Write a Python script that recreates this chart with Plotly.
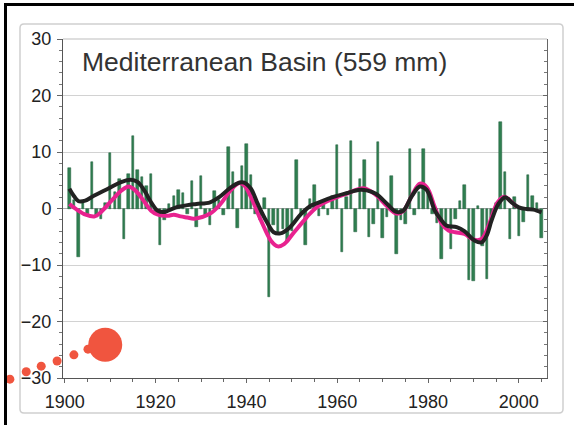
import plotly.graph_objects as go

# ---------------- data ----------------
years = list(range(1901, 2006))
anomaly = [
    7.1, 1.5, -8.5, 1.0, -1.0, 8.3, -1.5, -1.8, 1.0, 9.9,      # 1901-1910
    3.0, 5.3, -5.4, 6.1, 12.9, 6.8, 5.5, 4.0, 6.1, -1.0,       # 1911-1920
    -6.4, -2.0, 0.8, 2.3, 3.2, 2.8, -1.0, 4.8, -3.2, 5.7,      # 1921-1930
    -1.2, -3.0, 3.1, 1.5, -1.2, 10.9, 6.4, -3.4, 7.6, 11.4,    # 1931-1940
    6.0, -1.0, -2.0, 1.8, -15.6, -3.0, -4.5, -3.6, -6.0, -4.0, # 1941-1950
    8.6, -1.0, -6.4, 1.7, 4.1, -1.4, 0.8, -1.1, 2.3, 11.3,     # 1951-1960
    -7.7, 2.0, 11.9, -4.1, 5.3, 8.6, -5.0, -2.7, 11.8, -5.2,   # 1961-1970
    -1.5, 5.8, -8.1, -2.0, -2.7, 10.6, -1.2, 3.0, 10.6, 3.2,   # 1971-1980
    -1.0, -2.5, -8.9, -3.3, -7.1, -1.8, 1.4, 4.2, -12.7, -12.8,# 1981-1990
    0.5, -6.7, -12.4, -2.0, 1.0, 15.3, 6.4, -5.4, 2.0, -4.8,   # 1991-2000
    -2.4, 6.0, 2.3, 1.0, -5.2,                                 # 2001-2005
]

smooth_black_x = [1901, 1902, 1903, 1904.5, 1906.5, 1909.5, 1912.5, 1914.5, 1916, 1917.5,
                  1919, 1920.5, 1922, 1923.5, 1925, 1927, 1929, 1932, 1934, 1936.5,
                  1938.5, 1939.5, 1941, 1942.5, 1944.5, 1946, 1947.5, 1949.5, 1952, 1954,
                  1956, 1959, 1962, 1965, 1966.5, 1968.5, 1971, 1973, 1974.5, 1976.5,
                  1978.2, 1979.7, 1981.5, 1982.7, 1984, 1986.3, 1988, 1990.3, 1991.8, 1992.9,
                  1994, 1995.5, 1997, 1998.4, 2000, 2001.7, 2003.2, 2005]
smooth_black_y = [3.5, 2.2, 1.3, 1.4, 2.3, 3.5, 4.7, 5.1, 4.7, 3.2,
                  1.1, -0.4, -0.6, -0.1, 0.3, 0.6, 0.8, 1.1, 2.0, 3.7,
                  4.6, 4.6, 3.5, 0.8, -2.4, -4.2, -4.4, -3.4, -1.0, 0.4,
                  1.1, 2.0, 2.7, 3.3, 3.2, 2.6, 0.8, -0.6, -0.4, 2.3,
                  3.9, 3.3, -0.4, -1.8, -3.0, -3.3, -4.0, -5.7, -6.0, -4.8,
                  -2.1, 0.8, 2.0, 1.1, 0.2, -0.1, -0.2, -0.7]

smooth_pink_x = [1901, 1902.5, 1904.6, 1906.6, 1908, 1910.3, 1912.5, 1914, 1915.4, 1917.6,
                 1919, 1920.5, 1922.6, 1924, 1925.5, 1927, 1928.5, 1932, 1934.3, 1936.5,
                 1938.4, 1939.5, 1941, 1943.2, 1945.4, 1946.9, 1948.3, 1950.5, 1952.7, 1954,
                 1956, 1959, 1962, 1965.8, 1968.5, 1971, 1973, 1974.5, 1976.5, 1978.2,
                 1979.7, 1981.5, 1983, 1984.5, 1986, 1988, 1990, 1991.8, 1993.5, 1995.3,
                 1996.8, 1998.5, 1999.5]
smooth_pink_y = [0.8, -0.1, -1.1, -1.4, -0.6, 1.4, 3.2, 3.9, 3.3, 1.1,
                 -0.4, -1.1, -1.3, -1.1, -1.4, -1.6, -1.8, -0.9, 0.8, 3.2,
                 4.5, 4.1, 2.0, -2.1, -5.7, -6.7, -6.3, -4.2, -2.1, -0.9,
                 0.5, 1.7, 2.6, 3.6, 2.4, 0.4, -0.9, -0.5, 2.4, 4.4,
                 3.8, 0.2, -2.7, -3.9, -4.2, -4.5, -5.5, -5.4, -2.7, 1.1,
                 2.1, 1.1, 0.3]

dots_x = [1887.9, 1891.5, 1894.8, 1898.3, 1902.0, 1905.1, 1908.9]
dots_y = [-30.2, -28.9, -27.9, -27.0, -25.9, -24.9, -24.1]
dots_size = [9, 9, 9, 9, 9, 9, 34]

title_text = "Mediterranean Basin (559 mm)"
x_ticks = [1900, 1920, 1940, 1960, 1980, 2000]
y_ticks = [-30, -20, -10, 0, 10, 20, 30]
x_range = [1899.6, 2006.2]
y_range = [-30, 30]

# ---------------- layout geometry (pixels) ----------------
W, H = 574, 425
L, R, T, B = 63, 547, 39, 378
pw, ph = R - L, B - T

# wider axes spanning the whole figure, same data scale, for the decorative dots
ux = (x_range[1] - x_range[0]) / pw
uy = (y_range[1] - y_range[0]) / ph
x_full = [x_range[0] - L * ux, x_range[1] + (W - R) * ux]
y_full = [y_range[0] - (H - B) * uy, y_range[1] + T * uy]


def fx(xp):
    return xp / W


def fy(yp):
    return 1 - yp / H


fig = go.Figure()

fig.add_trace(go.Bar(
    x=years, y=anomaly, width=0.55,
    marker=dict(color="#2f7f50", line=dict(color="#1f5c38", width=0.5)),
    showlegend=False, hoverinfo="skip",
))
fig.add_trace(go.Scatter(
    x=smooth_pink_x, y=smooth_pink_y, mode="lines",
    line=dict(color="#e8228f", width=4, shape="spline", smoothing=1.0),
    showlegend=False, hoverinfo="skip",
))
fig.add_trace(go.Scatter(
    x=smooth_black_x, y=smooth_black_y, mode="lines",
    line=dict(color="#222222", width=4, shape="spline", smoothing=1.0),
    showlegend=False, hoverinfo="skip",
))
# right-side ticks
fig.add_trace(go.Scatter(x=[years[0]], y=[0], yaxis="y2", mode="markers",
                         marker=dict(opacity=0), showlegend=False, hoverinfo="skip"))
# decorative dots on full-figure axes
fig.add_trace(go.Scatter(
    x=dots_x, y=dots_y, xaxis="x3", yaxis="y3", mode="markers",
    marker=dict(color="#f0553f", size=dots_size, opacity=1, line=dict(width=0)),
    showlegend=False, hoverinfo="skip",
))

font_main = "Arial, Liberation Sans, sans-serif"
dom_x = [L / W, R / W]
dom_y = [1 - B / H, 1 - T / H]

fig.update_layout(
    width=W, height=H,
    margin=dict(l=0, r=0, t=0, b=0, pad=0),
    paper_bgcolor="white", plot_bgcolor="rgba(0,0,0,0)",
    bargap=0,
    xaxis=dict(
        domain=dom_x, anchor="y", automargin=False,
        range=x_range, tickvals=x_ticks, ticks="outside", ticklen=4,
        tickcolor="#666", tickwidth=1,
        minor=dict(dtick=5, tick0=1900, ticks="outside", ticklen=3, tickcolor="#666"),
        showgrid=False, zeroline=False, showline=True, linecolor="#555", linewidth=1,
        tickfont=dict(family=font_main, size=18, color="#222"), ticklabelstandoff=3,
    ),
    yaxis=dict(
        domain=dom_y, anchor="x", automargin=False,
        range=y_range, tickvals=y_ticks, ticks="outside", ticklen=5,
        tickcolor="#666", tickwidth=1,
        minor=dict(dtick=2, ticks="outside", ticklen=3, tickcolor="#777", showgrid=False),
        showgrid=True, gridcolor="#d2d2d2", gridwidth=1,
        zeroline=True, zerolinecolor="#aaaaaa", zerolinewidth=1,
        showline=True, linecolor="#555", linewidth=1,
        tickfont=dict(family=font_main, size=18, color="#222"), ticklabelstandoff=2,
    ),
    yaxis2=dict(
        range=y_range, overlaying="y", anchor="x", side="right", showticklabels=False,
        automargin=False,
        tickvals=y_ticks, ticks="inside", ticklen=4, tickcolor="#666",
        minor=dict(dtick=2, ticks="inside", ticklen=3, tickcolor="#777", showgrid=False),
        showgrid=False, zeroline=False, showline=True, linecolor="#666", linewidth=1,
    ),
    xaxis3=dict(domain=[0, 1], anchor="y3", range=x_full, visible=False,
                automargin=False, fixedrange=True),
    yaxis3=dict(domain=[0, 1], anchor="x3", range=y_full, visible=False,
                automargin=False, fixedrange=True),
    shapes=[
        # top plot border (light grey)
        dict(type="line", xref="paper", yref="paper", x0=fx(L), x1=fx(R), y0=fy(T), y1=fy(T),
             line=dict(color="#bdbdbd", width=1)),
        # grey rounded outer box
        dict(type="path", xref="paper", yref="paper",
             path=(f"M {fx(24)} {fy(24)} L {fx(559)} {fy(24)} "
                   f"Q {fx(563)} {fy(24)} {fx(563)} {fy(28)} L {fx(563)} {fy(409)} "
                   f"Q {fx(563)} {fy(413)} {fx(559)} {fy(413)} L {fx(24)} {fy(413)} "
                   f"Q {fx(20)} {fy(413)} {fx(20)} {fy(409)} L {fx(20)} {fy(28)} "
                   f"Q {fx(20)} {fy(24)} {fx(24)} {fy(24)} Z"),
             line=dict(color="#cfcfcf", width=1.5), layer="below"),
        # black frame lines
        dict(type="line", xref="paper", yref="paper", x0=fx(4), x1=1, y0=fy(4.5), y1=fy(4.5),
             line=dict(color="black", width=3)),
        dict(type="line", xref="paper", yref="paper", x0=fx(5.5), x1=fx(5.5), y0=fy(3), y1=0,
             line=dict(color="black", width=3)),
    ],
    annotations=[
        dict(text=title_text, xref="paper", yref="paper", x=fx(80), y=fy(62),
             xanchor="left", yanchor="middle", showarrow=False,
             font=dict(family=font_main, size=26.5, color="#333")),
    ],
)

fig.write_html("out.html")
